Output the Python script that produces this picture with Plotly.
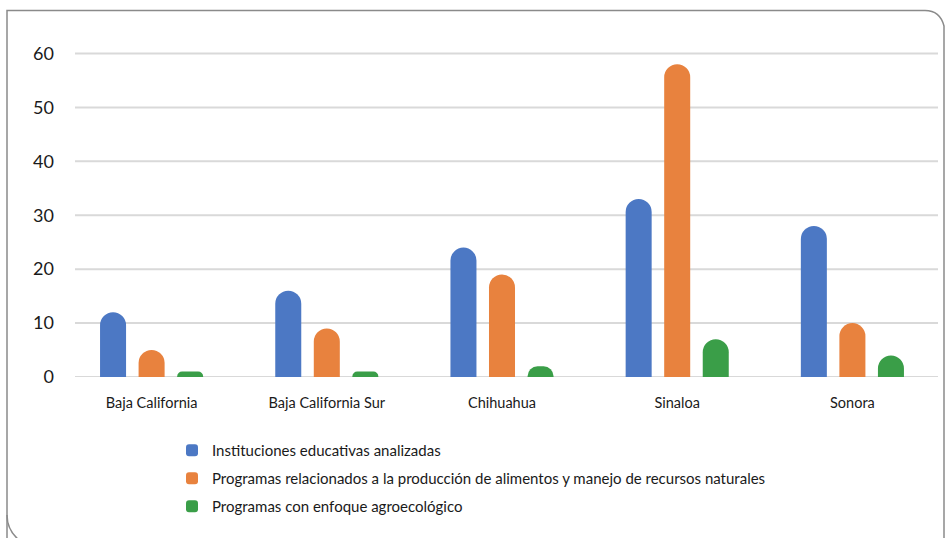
import plotly.graph_objects as go

categories = ["Baja California", "Baja California Sur", "Chihuahua", "Sinaloa", "Sonora"]
series_names = [
    "Instituciones educativas analizadas",
    "Programas relacionados a la producción de alimentos y manejo de recursos naturales",
    "Programas con enfoque agroecológico",
]
instituciones = [12, 16, 24, 33, 28]
programas_alimentos = [5, 9, 19, 58, 10]
programas_agroeco = [1, 1, 2, 7, 4]
y_ticks = [0, 10, 20, 30, 40, 50, 60]

colors = ["#4c78c4", "#e8823e", "#3a9e48"]
W, H = 945, 538
L, R, T, B = 64, 5, 40, 161
pw, ph = W - L - R, H - T - B


def px(x):
    return (x - L) / pw


def py(y):
    return (H - B - y) / ph


fig = go.Figure()
for name, vals, col in zip(series_names, [instituciones, programas_alimentos, programas_agroeco], colors):
    fig.add_trace(go.Bar(
        x=categories, y=vals, name=name, legendgroup=name,
        marker=dict(color=col, cornerradius="50%", line=dict(width=0)),
    ))

shapes = []
for t in y_ticks:
    shapes.append(dict(type="line", xref="paper", yref="y", x0=px(75), x1=px(938), y0=t, y1=t,
                       line=dict(color="#d9d9d9", width=2), layer="below"))

# rounded frame
fx0, fy0, fx1 = 7, 10.5, 944
path = (f"M {px(fx0)},{py(560)} L {px(fx0)},{py(fy0)} L {px(925)},{py(fy0)} "
        f"Q {px(940)},{py(fy0)} {px(fx1)},{py(26)} L {px(fx1)},{py(560)}")
shapes.append(dict(type="path", xref="paper", yref="paper", path=path,
                   line=dict(color="#8a8a8a", width=1.5), layer="below"))
path2 = f"M {px(fx0)},{py(515)} Q {px(fx0)},{py(530)} {px(19)},{py(540)}"
shapes.append(dict(type="path", xref="paper", yref="paper", path=path2,
                   line=dict(color="#8a8a8a", width=1.5), layer="below"))

fig.update_layout(
    width=W, height=H,
    margin=dict(l=L, r=R, t=T, b=B, pad=0),
    paper_bgcolor="white", plot_bgcolor="white",
    barmode="group", bargap=0.34, bargroupgap=0.325,
    font=dict(family="Lato, Open Sans, sans-serif", color="#1a1a1a"),
    xaxis=dict(showgrid=False, showline=False, zeroline=False, tickfont=dict(size=14.5),
               ticklabelstandoff=15, fixedrange=True),
    yaxis=dict(range=[0, 62.5], tickvals=y_ticks, showgrid=False, zeroline=False, showline=False,
               tickfont=dict(size=18), ticklabelstandoff=9, fixedrange=True),
    legend=dict(x=px(172), y=py(434), xanchor="left", yanchor="top", orientation="v",
                font=dict(size=15), tracegroupgap=5.5, itemclick=False, bgcolor="rgba(0,0,0,0)"),
    shapes=shapes,
)
fig.write_html("out.html")
